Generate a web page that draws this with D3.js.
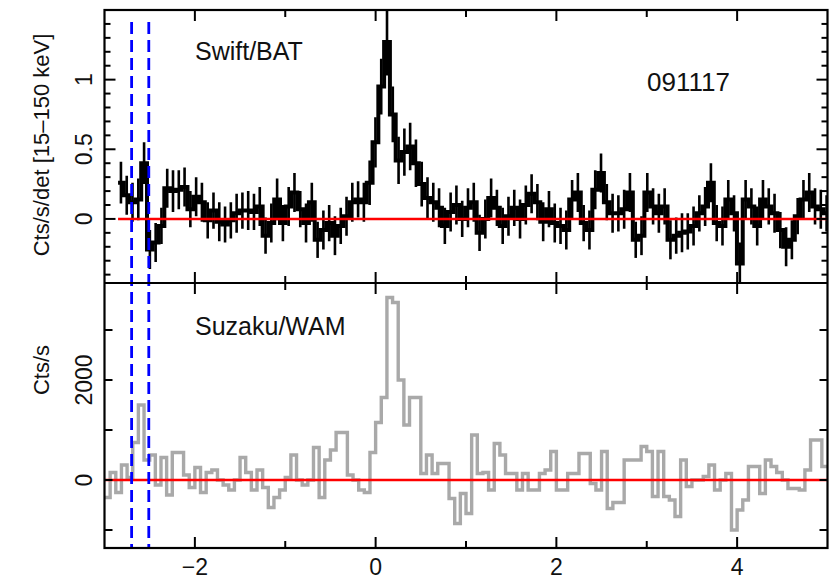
<!DOCTYPE html>
<html><head><meta charset="utf-8">
<script src="https://cdn.jsdelivr.net/npm/d3@7"></script>
<style>
html,body{margin:0;padding:0;background:#fff;}
text{font-family:"Liberation Sans",Arial,Helvetica,sans-serif;fill:#111;}
</style></head>
<body>
<svg id="chart" width="834" height="581"></svg>
<script>
// ---------- DATA ----------
const batStart = -2.85, batBin = 0.064;
const batValues = [0.26,0.17,0.12,0.14,0.40,-0.22,-0.17,-0.05,0.22,0.20,
 0.21,0.23,0.07,0.16,0.12,-0.01,0.06,-0.02,-0.04,-0.01,
 0.04,0.06,0.06,0.05,0.09,-0.12,-0.03,0.14,-0.03,0.09,
 0.19,0.07,-0.03,0.12,-0.15,-0.08,-0.03,-0.12,-0.05,0.02,
 0.12,0.14,0.12,0.26,0.55,0.95,1.27,0.75,0.42,0.48,
 0.52,0.40,0.25,0.15,0.12,0.08,-0.05,0.05,0.10,0.00,
 0.08,0.12,-0.10,0.00,0.15,0.08,-0.05,0.02,0.08,0.00,
 0.10,0.18,0.12,-0.02,0.07,-0.03,-0.05,-0.08,0.14,0.19,
 -0.03,-0.08,0.21,0.33,0.12,0.04,0.04,0.07,0.19,-0.15,
 -0.12,0.19,0.09,0.04,0.09,-0.15,-0.12,-0.10,-0.09,-0.05,
 0.04,0.09,0.26,-0.03,-0.05,0.14,0.04,-0.32,0.14,0.09,
 -0.05,0.14,0.09,0.04,-0.08,-0.20,-0.15,0.02,0.14,0.19,
 0.09,0.07,0.04];
const batErrors = [0.15,0.14,0.14,0.15,0.15,0.14,0.14,0.13,0.14,0.15,
 0.14,0.14,0.13,0.14,0.14,0.13,0.13,0.14,0.13,0.13,
 0.14,0.13,0.14,0.13,0.14,0.13,0.14,0.15,0.13,0.14,
 0.14,0.13,0.14,0.14,0.13,0.14,0.13,0.14,0.13,0.14,
 0.14,0.13,0.14,0.16,0.18,0.20,0.24,0.20,0.17,0.17,
 0.17,0.17,0.16,0.15,0.14,0.14,0.13,0.14,0.14,0.13,
 0.14,0.14,0.13,0.14,0.14,0.13,0.13,0.14,0.13,0.14,
 0.14,0.14,0.13,0.14,0.13,0.14,0.13,0.14,0.14,0.14,
 0.13,0.14,0.14,0.14,0.13,0.14,0.13,0.14,0.14,0.13,
 0.14,0.14,0.13,0.14,0.13,0.14,0.13,0.14,0.13,0.14,
 0.13,0.14,0.14,0.13,0.14,0.14,0.13,0.15,0.14,0.13,
 0.14,0.14,0.13,0.14,0.13,0.14,0.14,0.13,0.14,0.14,
 0.13,0.14,0.13];

const wamStart = -3.0, wamBin = 0.0625;
const wamValues = [-350,150,-250,300,50,750,1500,400,500,-100,
 450,-300,550,550,100,-150,250,-250,150,200,
 0,-100,-200,0,450,150,-200,200,-150,-550,
 -350,-200,50,500,0,-100,0,650,-350,400,
 600,950,950,100,0,-200,-250,550,1150,1650,
 3650,3550,2000,1100,1650,1650,130,500,130,330,
 330,-370,-870,-270,-670,900,130,150,-200,730,
 500,130,130,-200,130,-200,-200,130,200,570,
 -200,-200,130,130,530,530,-70,-200,570,-570,
 -450,-450,400,400,400,670,570,-330,570,-330,
 -400,-730,400,-130,0,0,70,300,-200,0,
 130,-1000,-600,-400,270,270,-270,400,270,150,
 0,-170,-170,-200,200,800,800,270];

const batTicksMajor = [0, 0.5, 1];
const batTickLabels = ["0", "0.5", "1"];
const wamTicks = [-1000, 0, 1000, 2000, 3000];
const wamTickLabels = [[0,"0"],[2000,"2000"]];
const xTicksMajor = [-2, 0, 2, 4];
const xTicksMinor = [-1, 1, 3];
const xTickLabels = ["\u22122", "0", "2", "4"];
const triggerLines = [-2.70, -2.51];
const batLabel = "Swift/BAT", wamLabel = "Suzaku/WAM", grbName = "091117";
const batYTitle = "Cts/s/det [15\u2013150 keV]", wamYTitle = "Cts/s";

// ---------- LAYOUT ----------
const svg = d3.select("#chart");
const L = 104.5, R = 827.5, T = 10, M = 283, B = 548;
const x = d3.scaleLinear().domain([-3, 5]).range([L, R]);
const yTop = d3.scaleLinear().domain([-0.46, 1.5]).range([M, T]);
const yBot = d3.scaleLinear().domain([-1360, 3940]).range([B, M]);

const defs = svg.append("defs");
defs.append("clipPath").attr("id","clipTop").append("rect")
  .attr("x",L).attr("y",T).attr("width",R-L).attr("height",M-T);
defs.append("clipPath").attr("id","clipBot").append("rect")
  .attr("x",L).attr("y",M).attr("width",R-L).attr("height",B-M);

// ---------- TOP PANEL (BAT) ----------
const gTop = svg.append("g").attr("clip-path","url(#clipTop)");
const batPts = [];
batValues.forEach((v,i)=>{
  const t0 = batStart + i*batBin, t1 = t0 + batBin;
  batPts.push([t0,v],[t1,v]);
});
gTop.selectAll("line.err").data(batValues).enter().append("line")
  .attr("x1",(d,i)=>x(batStart+(i+0.5)*batBin))
  .attr("x2",(d,i)=>x(batStart+(i+0.5)*batBin))
  .attr("y1",(d,i)=>yTop(d-batErrors[i]))
  .attr("y2",(d,i)=>yTop(d+batErrors[i]))
  .attr("stroke","#000").attr("stroke-width",2.6);
gTop.append("path").datum(batPts)
  .attr("d", d3.line().x(d=>x(d[0])).y(d=>yTop(d[1])))
  .attr("fill","none").attr("stroke","#000").attr("stroke-width",4)
  .attr("stroke-linejoin","miter");
gTop.append("line").attr("x1",x(batStart)).attr("x2",R)
  .attr("y1",yTop(0)).attr("y2",yTop(0))
  .attr("stroke","#ff0000").attr("stroke-width",2.6);

// ---------- BOTTOM PANEL (WAM) ----------
const gBot = svg.append("g").attr("clip-path","url(#clipBot)");
const wamPts = [];
wamValues.forEach((v,i)=>{
  const t0 = wamStart + i*wamBin, t1 = t0 + wamBin;
  wamPts.push([t0,v],[t1,v]);
});
gBot.append("path").datum(wamPts)
  .attr("d", d3.line().x(d=>x(d[0])).y(d=>yBot(d[1])))
  .attr("fill","none").attr("stroke","#a9a9a9").attr("stroke-width",3.4);
gBot.append("line").attr("x1",L).attr("x2",R)
  .attr("y1",yBot(0)).attr("y2",yBot(0))
  .attr("stroke","#ff0000").attr("stroke-width",2.6);

// ---------- TRIGGER LINES ----------
svg.selectAll("line.trig").data(triggerLines).enter().append("line")
  .attr("x1",d=>x(d)).attr("x2",d=>x(d)).attr("y1",22).attr("y2",B)
  .attr("stroke","#0000ff").attr("stroke-width",2.8)
  .attr("stroke-dasharray","12,6");

// ---------- AXES ----------
const ax = svg.append("g").attr("stroke","#000").attr("fill","none");
ax.append("rect").attr("x",L).attr("y",T).attr("width",R-L).attr("height",B-T).attr("stroke-width",2.2);
ax.append("line").attr("x1",L).attr("x2",R).attr("y1",M).attr("y2",M).attr("stroke-width",2.2);

function xTicks(yEdge, dir){
  xTicksMajor.forEach(t=>ax.append("line").attr("x1",x(t)).attr("x2",x(t))
    .attr("y1",yEdge).attr("y2",yEdge+dir*11).attr("stroke-width",2));
  xTicksMinor.forEach(t=>ax.append("line").attr("x1",x(t)).attr("x2",x(t))
    .attr("y1",yEdge).attr("y2",yEdge+dir*7).attr("stroke-width",2));
}
xTicks(T, 1); xTicks(M, -1); xTicks(M, 1); xTicks(B, -1);

const minorTop = yTop.ticks(20).filter(v=>v>-0.46 && v<1.5);
minorTop.forEach(v=>{
  const major = batTicksMajor.some(m=>Math.abs(m-v)<1e-6);
  const len = major ? 11 : 6;
  ax.append("line").attr("x1",L).attr("x2",L+len).attr("y1",yTop(v)).attr("y2",yTop(v)).attr("stroke-width",2);
  ax.append("line").attr("x1",R).attr("x2",R-len).attr("y1",yTop(v)).attr("y2",yTop(v)).attr("stroke-width",2);
});
wamTicks.forEach(v=>{
  ax.append("line").attr("x1",L).attr("x2",L+8).attr("y1",yBot(v)).attr("y2",yBot(v)).attr("stroke-width",2);
  ax.append("line").attr("x1",R).attr("x2",R-8).attr("y1",yBot(v)).attr("y2",yBot(v)).attr("stroke-width",2);
});

// ---------- LABELS ----------
const fs = 23;
xTicksMajor.forEach((t,i)=>svg.append("text").attr("x",x(t)).attr("y",575)
  .attr("text-anchor","middle").attr("font-size",fs).text(xTickLabels[i]));
batTicksMajor.forEach((v,i)=>svg.append("text")
  .attr("transform",`translate(92,${yTop(v)}) rotate(-90)`)
  .attr("text-anchor","middle").attr("font-size",fs).text(batTickLabels[i]));
wamTickLabels.forEach(([v,s])=>svg.append("text")
  .attr("transform",`translate(92,${yBot(v)}) rotate(-90)`)
  .attr("text-anchor","middle").attr("font-size",fs).text(s));
svg.append("text").attr("transform","translate(49,145) rotate(-90)")
  .attr("text-anchor","middle").attr("font-size",22).text(batYTitle);
svg.append("text").attr("transform","translate(49,370) rotate(-90)")
  .attr("text-anchor","middle").attr("font-size",22).text(wamYTitle);

svg.append("text").attr("x",195).attr("y",60).attr("font-size",25).text(batLabel);
svg.append("text").attr("x",647).attr("y",91).attr("font-size",26).text(grbName);
svg.append("text").attr("x",195).attr("y",335).attr("font-size",25).text(wamLabel);
</script>
</body></html>
